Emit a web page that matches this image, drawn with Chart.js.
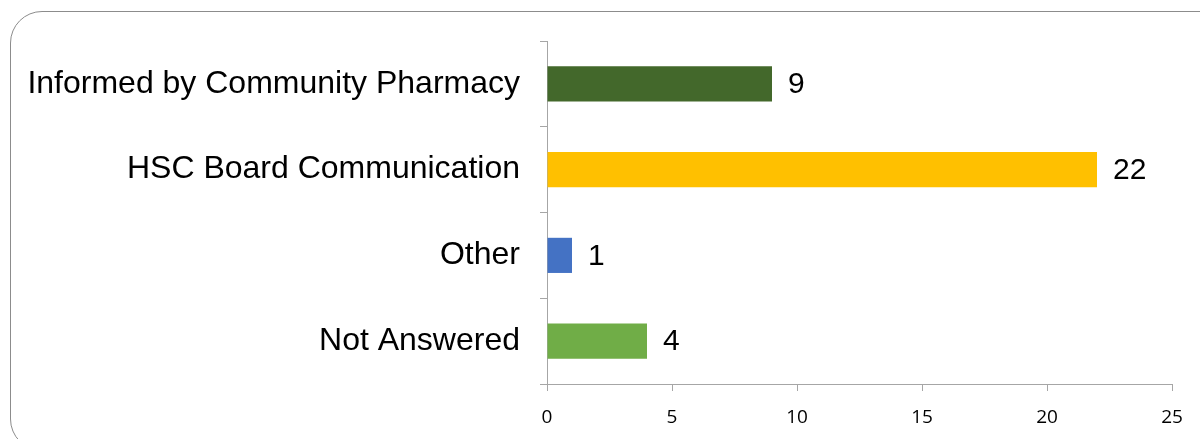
<!DOCTYPE html>
<html>
<head>
<meta charset="utf-8">
<script src="https://cdn.jsdelivr.net/npm/chart.js@4.4.1/dist/chart.umd.min.js"></script>
<style>
  html, body { margin: 0; padding: 0; background: #fff; overflow: hidden; }
  #wrap { position: relative; width: 1200px; height: 439px; }
  #frame {
    position: absolute; left: 10px; top: 11px; width: 1225px; height: 440px;
    border: 1.5px solid #8c8c8c; border-radius: 32px; box-sizing: border-box;
  }
  canvas { position: absolute; left: 0; top: 0; }
</style>
</head>
<body>
<div id="wrap">
  <div id="frame"></div>
  <canvas id="myChart" width="1200" height="439"></canvas>
</div>
<script>
const categories = ["Informed by Community Pharmacy", "HSC Board Communication", "Other", "Not Answered"];
const counts = [9, 22, 1, 4];
const barColors = ["#43682B", "#FFC000", "#4472C4", "#70AD47"];
const xTicks = [0, 5, 10, 15, 20, 25];

const valueLabels = {
  id: "valueLabels",
  afterDatasetsDraw(chart) {
    const ctx = chart.ctx;
    const meta = chart.getDatasetMeta(0);
    ctx.save();
    ctx.font = "30px 'Liberation Sans', Arial, sans-serif";
    ctx.fillStyle = "#000";
    ctx.textBaseline = "middle";
    ctx.textAlign = "left";
    meta.data.forEach((bar, i) => {
      ctx.fillText(String(counts[i]), bar.x + 16, bar.y + 1);
    });
    ctx.restore();
  },
};

function renderChart(ctx) {
  new Chart(ctx, {
    type: "bar",
    data: {
      labels: categories,
      datasets: [
        {
          data: counts,
          backgroundColor: barColors,
          borderWidth: 0,
          barPercentage: 0.41,
          categoryPercentage: 1,
        },
      ],
    },
    options: {
      indexAxis: "y",
      responsive: false,
      animation: false,
      layout: { padding: { top: 41, right: 28, left: 0, bottom: 0 } },
      plugins: { legend: { display: false }, tooltip: { enabled: false } },
      scales: {
        x: {
          min: 0,
          max: 25,
          afterBuildTicks(scale) {
            scale.ticks = xTicks.map((v) => ({ value: v }));
          },
          afterFit(scale) {
            scale.height = 55;
          },
          grid: { drawOnChartArea: false, tickLength: 7, color: "#A6A6A6" },
          border: { color: "#A6A6A6", width: 1 },
          ticks: {
            color: "#000",
            padding: 15,
            font: { family: "'Open Sans', sans-serif", size: 19 },
          },
        },
        y: {
          afterFit(scale) {
            scale.width = 547;
          },
          grid: { drawOnChartArea: false, offset: true, tickLength: 7, color: "#A6A6A6" },
          border: { color: "#A6A6A6", width: 1 },
          ticks: {
            color: "#000",
            padding: 20,
            font: { family: "'Liberation Sans', Arial, sans-serif", size: 32 },
          },
        },
      },
    },
    plugins: [valueLabels],
  });
}

function setup() {
  const ctx = document.getElementById("myChart").getContext("2d");
  renderChart(ctx);
}

window.addEventListener("load", setup);
</script>
</body>
</html>
